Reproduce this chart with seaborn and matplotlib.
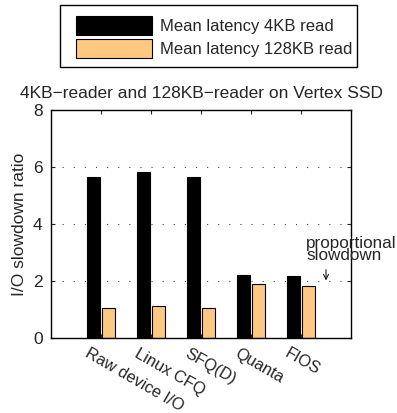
import matplotlib
matplotlib.use("Agg")
import matplotlib.pyplot as plt
import seaborn as sns
import pandas as pd
from matplotlib import transforms
from matplotlib.patches import Patch, Rectangle

schedulers = ["Raw device I/O", "Linux CFQ", "SFQ(D)", "Quanta", "FIOS"]
lat_4kb = [5.66, 5.84, 5.66, 2.21, 2.16]
lat_128kb = [1.06, 1.11, 1.05, 1.91, 1.81]
series_names = ["Mean latency 4KB read", "Mean latency 128KB read"]
colors = ["#000000", "#FFC880"]

df = pd.DataFrame({
    "scheduler": schedulers * 2,
    "value": lat_4kb + lat_128kb,
    "series": [series_names[0]] * len(schedulers) + [series_names[1]] * len(schedulers),
})

sns.set_theme(style="white")
plt.rcParams["font.family"] = ["Liberation Sans", "DejaVu Sans"]

W, H = 397, 413
fig = plt.figure(figsize=(W / 100, H / 100), dpi=100)
ax = fig.add_axes([51 / W, 1 - 338 / H, 300 / W, 228 / H])

sns.barplot(data=df, x="scheduler", y="value", hue="series", order=schedulers,
            hue_order=series_names, palette=colors, width=0.6, gap=0.13,
            edgecolor="black", linewidth=0.8, ax=ax, legend=False, saturation=1)

ax.set_xlim(-1, 5)
ax.set_ylim(0, 8)
ax.set_yticks([0, 2, 4, 6, 8])
ax.tick_params(axis="y", labelsize=12.5, direction="in", length=3, right=True, left=True, width=0.8, pad=6)
ax.tick_params(axis="x", direction="in", length=3, top=True, bottom=True, width=0.8)
for s in ax.spines.values():
    s.set_color("black")
    s.set_linewidth(1.0)
for yv in [2, 4, 6]:
    ax.axhline(yv, color="#444444", linestyle=(0, (1, 9)), linewidth=0.8, zorder=0)

ax.set_xlabel("")
ax.set_ylabel("I/O slowdown ratio", fontsize=12.5, labelpad=4)
ax.set_title("4KB\u2212reader and 128KB\u2212reader on Vertex SSD", fontsize=12.5, pad=9)

ax.set_xticks(range(len(schedulers)))
offset = transforms.ScaledTranslation(-11 / 100, -3 / 100, fig.dpi_scale_trans)
ax.set_xticklabels(schedulers, rotation=-30, ha="left", va="top",
                   rotation_mode="anchor", fontsize=11.8)
for lbl in ax.get_xticklabels():
    lbl.set_transform(lbl.get_transform() + offset)

ax.text(4.1, 2.62, "proportional\nslowdown", fontsize=12.3, ha="left", va="bottom",
        linespacing=0.8)
ax.annotate("", xy=(4.5, 2.02), xytext=(4.5, 2.4),
            arrowprops=dict(arrowstyle="->", color="black", lw=0.7,
                            shrinkA=0, shrinkB=0, mutation_scale=9))

handles = [Patch(facecolor=c, edgecolor="black", linewidth=0.8) for c in colors]
leg = fig.legend(handles, series_names, loc="center",
                 bbox_to_anchor=(214 / W, 1 - 37 / H), fontsize=12,
                 frameon=False, handlelength=4.6, handleheight=1.35,
                 borderpad=0.3, labelspacing=0.3, handletextpad=0.45)
fig.patches.append(Rectangle((60 / W, 1 - 67 / H), 297 / W, 62 / H,
                             transform=fig.transFigure, fill=False,
                             edgecolor="black", linewidth=1.0))

fig.savefig("out.png", dpi=100)
